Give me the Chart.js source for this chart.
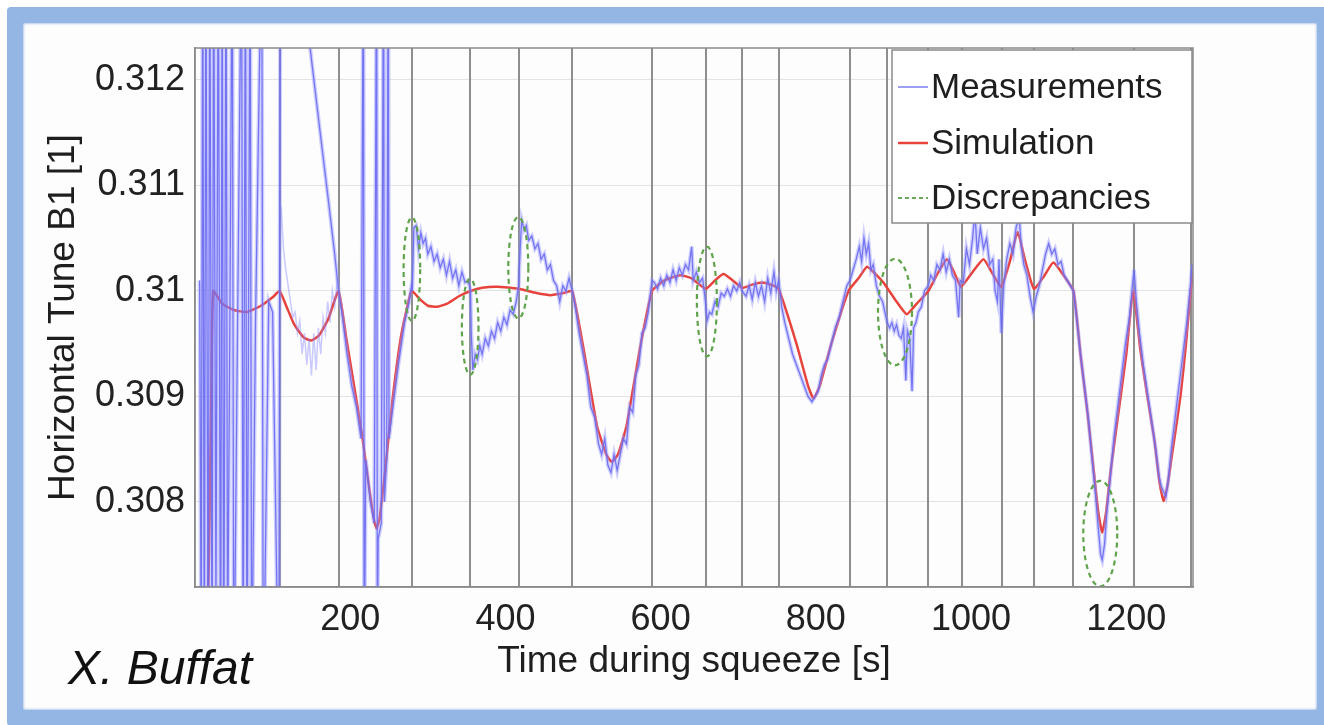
<!DOCTYPE html>
<html>
<head>
<meta charset="utf-8">
<script src="https://cdn.jsdelivr.net/npm/chart.js@4/dist/chart.umd.min.js"></script>
<style>
  html, body { margin: 0; padding: 0; background: #ffffff; }
  body { width: 1324px; height: 725px; position: relative; overflow: hidden; }
  .frame {
    position: absolute; left: 7px; top: 7px; width: 1326px; height: 719px;
    box-sizing: border-box; border: 16px solid #93b6e4; border-radius: 4px;
    background: #fdfdfe; box-shadow: inset 0 0 3px #6f98d2;
  }
  .author {
    position: absolute; left: 68px; top: 640px;
    font: italic 48px "Liberation Sans", Arial, sans-serif; color: #111;
  }
  #wrap { position: absolute; left: 0; top: 0; width: 1324px; height: 725px; }
</style>
</head>
<body>
<div class="frame"></div>
<div id="wrap"><canvas id="tune-chart" width="1324" height="725"></canvas></div>
<div class="author">X. Buffat</div>
<script>
// axis
var xTicks = [200, 400, 600, 800, 1000, 1200];
var yTicks = [0.308, 0.309, 0.31, 0.311, 0.312];

// squeeze steps (s)
var stepTimes = [109, 185, 279, 355, 417, 486, 589, 658, 705, 752, 844, 892, 945, 988, 1040, 1081, 1132, 1210, 1284];

// simulation
var simT = [14, 18, 21, 23.5, 35, 50, 67, 85, 100, 109, 118, 128, 140, 150, 160, 172, 185, 195, 205, 215, 225, 231, 234, 238, 245, 255, 265, 272, 279,
  290, 300, 312, 325, 340, 355, 370, 390, 417, 440, 458, 475, 486, 500, 518, 530, 537, 545, 556, 574, 589, 605, 625, 640, 658, 670, 681, 693, 705,
  718, 730, 742, 752, 775, 790, 797, 805, 820, 842, 855, 866, 877, 887, 902, 917, 930, 945, 958, 969, 978, 987, 1000, 1016, 1028, 1039, 1050, 1060,
  1070, 1081, 1094, 1106, 1120, 1132, 1141, 1150, 1158, 1164, 1169, 1174, 1180, 1190, 1200, 1209, 1218, 1227, 1236, 1243, 1248, 1253, 1260, 1270,
  1277, 1283, 1287];
var simQ = [0.3060, 0.3075, 0.3090, 0.3100, 0.30988, 0.30982, 0.3098, 0.30986, 0.30994, 0.3100, 0.30985, 0.30968, 0.30956, 0.30953, 0.30958, 0.30974,
  0.3100, 0.30955, 0.3091, 0.30865, 0.3081, 0.30782, 0.30775, 0.30785, 0.3083, 0.3090, 0.30955, 0.3098, 0.3100,
  0.30992, 0.30986, 0.30985, 0.30988, 0.30995, 0.3100, 0.31003, 0.31004, 0.31002, 0.30998, 0.30996, 0.30998, 0.3100, 0.30948, 0.30872, 0.30845,
  0.30838, 0.30845, 0.30872, 0.30948, 0.3100, 0.3101, 0.31015, 0.31012, 0.31002, 0.3101, 0.31016, 0.3101, 0.31003,
  0.31006, 0.31008, 0.31006, 0.31002, 0.3095, 0.3091, 0.30898, 0.3091, 0.3095, 0.3100, 0.31012, 0.31023, 0.31016, 0.31008, 0.30992, 0.30978, 0.30988,
  0.3100, 0.31018, 0.3103, 0.31018, 0.31004, 0.31016, 0.3103, 0.31016, 0.31004, 0.31028, 0.31056,
  0.31028, 0.31002, 0.31014, 0.31027, 0.31014, 0.3100, 0.3094, 0.30885, 0.3083, 0.3079, 0.30771, 0.3079, 0.3083, 0.30885, 0.3094, 0.3100, 0.30945,
  0.30901, 0.3086, 0.30818, 0.30801, 0.30815, 0.3085, 0.30901, 0.3095, 0.3100, 0.3102];

// measurements
var measT = [6, 8, 10, 12, 14, 17, 19, 22, 24, 27, 30, 33, 35, 37, 40, 42, 45, 48, 50, 55, 60, 62, 65, 67, 71, 73, 78, 86, 88, 95, 100, 108, 110,
  129, 140, 150, 160, 172, 180, 185,
  190, 196, 202, 208, 214, 217, 218, 220, 226, 231, 234, 235, 236, 240, 243, 244, 247, 249, 250, 255, 262, 270, 276, 279,
  280, 282, 285, 288, 291, 294, 297, 300, 304, 308, 312, 316, 320, 324, 328, 332, 336, 340, 344, 348, 352, 355,
  356, 358, 361, 364, 367, 370, 374, 378, 382, 386, 390, 394, 398, 402, 406, 410, 414, 417,
  419, 421, 424, 427, 430, 434, 438, 442, 446, 450, 454, 458, 462, 466, 470, 474, 478, 482, 486,
  490, 495, 500, 505, 510, 515, 520, 524, 528, 532, 536, 540, 544, 548, 552, 556, 560, 564, 568, 572, 576, 580, 584, 589,
  592, 596, 600, 604, 608, 612, 616, 620, 624, 628, 632, 636, 640, 642, 646, 650, 654, 657,
  660, 663, 666, 670, 674, 678, 682, 686, 690, 694, 698, 702, 705,
  710, 714, 718, 722, 726, 730, 734, 738, 742, 746, 749, 752,
  756, 760, 765, 770, 775, 780, 785, 790, 795, 799, 803, 807, 811, 815, 820, 825, 830, 835, 840, 844,
  848, 852, 856, 859, 862, 865, 868, 871, 874, 878, 882, 886, 889, 892,
  895, 898, 901, 904, 907, 910, 913, 916, 918, 921, 924, 926, 929, 932, 936, 940, 945,
  948, 952, 956, 960, 964, 968, 972, 976, 980, 984, 986, 990, 994, 998, 1002, 1005, 1008, 1012, 1016, 1020, 1024, 1028, 1031, 1034, 1036, 1039,
  1042, 1046, 1050, 1054, 1058, 1062, 1065, 1068, 1072, 1076, 1080, 1084, 1088, 1092, 1096, 1100, 1104, 1108, 1112, 1116, 1120, 1124, 1128, 1132,
  1136, 1141, 1146, 1151, 1156, 1160, 1164, 1167, 1169, 1172, 1175, 1179, 1184, 1189, 1194, 1199, 1204, 1208, 1210, 1213, 1217, 1222, 1228, 1234,
  1238, 1242, 1245, 1248, 1251, 1254, 1258, 1263, 1268, 1273, 1278, 1282, 1285];
var measQ = [0.3101, 0.3065, 0.3135, 0.3060, 0.3135, 0.3060, 0.3135, 0.3062, 0.3135, 0.3070, 0.3135, 0.3060, 0.3135, 0.3060, 0.3135, 0.3065, 0.3098,
  0.3135, 0.3060, 0.3098, 0.3135, 0.3060, 0.3135, 0.3060, 0.3135, 0.3062, 0.3097, 0.3135, 0.3060, 0.3099, 0.3098, 0.3060, 0.3135,
  0.3135, 0.31283, 0.3122, 0.31158, 0.31085, 0.31035, 0.3100,
  0.30975, 0.3094, 0.3091, 0.3089, 0.3086, 0.3135, 0.3062, 0.3084, 0.3080, 0.3078, 0.3135, 0.3065, 0.30765, 0.3078, 0.3135, 0.3080, 0.3084, 0.3135,
  0.3086, 0.3089, 0.3093, 0.3097, 0.3099, 0.31005,
  0.3100, 0.3106, 0.31062, 0.3104, 0.31055, 0.31045, 0.3105, 0.31035, 0.31042, 0.31028, 0.31035, 0.31022, 0.3103, 0.31015, 0.31028, 0.31012, 0.3102,
  0.31005, 0.31018, 0.31008, 0.3101, 0.3100,
  0.3096, 0.30925, 0.3094, 0.30935, 0.30948, 0.3094, 0.30955, 0.30948, 0.30962, 0.30955, 0.3097, 0.30962, 0.30975, 0.30968, 0.30982, 0.30978, 0.3099,
  0.31005,
  0.3104, 0.31067, 0.31058, 0.31062, 0.31048, 0.31052, 0.3104, 0.31045, 0.3103, 0.31035, 0.3102, 0.31025, 0.3101, 0.31005, 0.3099, 0.31005, 0.3100,
  0.31012, 0.3100,
  0.30985, 0.3096, 0.3094, 0.3092, 0.3089, 0.3088, 0.30855, 0.30845, 0.3086, 0.30835, 0.30828, 0.30845, 0.3083, 0.30845, 0.3086, 0.30855, 0.3089,
  0.30885, 0.3092, 0.3093, 0.3096, 0.30965, 0.3098, 0.3101,
  0.31008, 0.31002, 0.31012, 0.31005, 0.31015, 0.31008, 0.3102, 0.3101, 0.31022, 0.31015, 0.31025, 0.3102, 0.31042, 0.3101, 0.31018, 0.31008,
  0.31012, 0.30995,
  0.30972, 0.3098, 0.30978, 0.3099, 0.30985, 0.30998, 0.30995, 0.31002, 0.30995, 0.31005, 0.3100, 0.31008, 0.3100,
  0.30995, 0.31005, 0.30992, 0.31008, 0.30995, 0.31005, 0.3099, 0.31012, 0.30998, 0.31018, 0.3100, 0.3101,
  0.30985, 0.3097, 0.30955, 0.3094, 0.3093, 0.3092, 0.3091, 0.3090, 0.30895, 0.3090, 0.30905, 0.3092, 0.3093, 0.30935, 0.3095, 0.30965, 0.30975,
  0.3099, 0.31005, 0.3101,
  0.3102, 0.3103, 0.31042, 0.31028, 0.3105, 0.31035, 0.31045, 0.3102, 0.31025, 0.31005, 0.30995, 0.3099, 0.3098, 0.3097,
  0.30965, 0.3097, 0.30962, 0.30968, 0.30958, 0.30955, 0.30965, 0.30915, 0.30962, 0.30955, 0.30905, 0.30965, 0.3097, 0.3098, 0.30985, 0.3100, 0.31005,
  0.31015, 0.3101, 0.31025, 0.3102, 0.31035, 0.31018, 0.3103, 0.31015, 0.3101, 0.30975, 0.3101, 0.31008, 0.3104, 0.31025, 0.3105, 0.31075, 0.31035,
  0.3106, 0.3104, 0.3105, 0.31025, 0.3103, 0.3100, 0.3099, 0.3103, 0.3096,
  0.31005, 0.3103, 0.31045, 0.31035, 0.3106, 0.3107, 0.3104, 0.31025, 0.31015, 0.30995, 0.3098, 0.30995, 0.31005, 0.3102, 0.31035, 0.31045, 0.31035,
  0.3104, 0.31025, 0.31028, 0.31015, 0.3101, 0.31005, 0.3100,
  0.30975, 0.3094, 0.3091, 0.3088, 0.3084, 0.3081, 0.30775, 0.3075, 0.30745, 0.3076, 0.3079, 0.3082, 0.3086, 0.3089, 0.3092, 0.3095, 0.30975, 0.31005,
  0.3102, 0.3099, 0.3096, 0.3093, 0.3090, 0.3087,
  0.3085, 0.30825, 0.30815, 0.3081, 0.30805, 0.3082, 0.3085, 0.3088, 0.3091, 0.3094, 0.3097, 0.3100, 0.31025];

// faint raw trace after the first steps
var rawT = [111, 114, 117, 120, 123, 126, 129, 132, 135, 138, 141, 144, 147, 150, 153, 156, 159, 162, 165, 168, 171, 174, 177, 180, 183, 185];
var rawQ = [0.3108, 0.3104, 0.3102, 0.31005, 0.3099, 0.30975, 0.3098, 0.3096, 0.30972, 0.3094, 0.3096, 0.3093, 0.30955, 0.3092, 0.3096, 0.30925,
  0.30965, 0.3094, 0.30975, 0.3096, 0.3099, 0.3097, 0.3100, 0.30985, 0.3101, 0.3100];

// discrepancy ellipses: centre and half sizes in data units
var discT = [279.5, 354.6, 416.6, 659.6, 902, 1166.5];
var discQ = [0.310206, 0.30966, 0.31022, 0.3099, 0.3098, 0.3077];
var discRT = [10.7, 10.7, 12.9, 12.9, 21.9, 21.9];
var discRQ = [0.00049, 0.000455, 0.00048, 0.00052, 0.000505, 0.0005];

var legendLabels = ['Measurements', 'Simulation', 'Discrepancies'];

var FONT = '"Liberation Sans", Arial, Helvetica, sans-serif';

function pairs(ts, qs) {
  var out = [];
  for (var i = 0; i < ts.length; i++) {
    out.push({x: ts[i], y: qs[i]});
  }
  return out;
}

// grey lines at each squeeze step
var stepLines = {
  id: 'stepLines',
  beforeDatasetsDraw: function(chart) {
    var ctx = chart.ctx, a = chart.chartArea, xs = chart.scales.x;
    ctx.save();
    ctx.strokeStyle = '#8e8e8e';
    ctx.lineWidth = 2;
    for (var i = 0; i < stepTimes.length; i++) {
      var px = Math.round(xs.getPixelForValue(stepTimes[i]));
      ctx.beginPath();
      ctx.moveTo(px, a.top);
      ctx.lineTo(px, a.bottom);
      ctx.stroke();
    }
    ctx.restore();
  }
};

// dashed green ellipses, box, legend
var overlays = {
  id: 'overlays',
  afterDatasetsDraw: function(chart) {
    var ctx = chart.ctx, a = chart.chartArea, xs = chart.scales.x, ys = chart.scales.y;
    ctx.save();
    ctx.beginPath();
    ctx.rect(a.left, a.top, a.right - a.left, a.bottom - a.top);
    ctx.clip();
    ctx.strokeStyle = '#5fa34a';
    ctx.lineWidth = 2.2;
    ctx.setLineDash([5, 4]);
    for (var i = 0; i < discT.length; i++) {
      var cx = xs.getPixelForValue(discT[i]);
      var cy = ys.getPixelForValue(discQ[i]);
      var rx = xs.getPixelForValue(discT[i] + discRT[i]) - cx;
      var ry = cy - ys.getPixelForValue(discQ[i] + discRQ[i]);
      ctx.beginPath();
      ctx.ellipse(cx, cy, rx, ry, 0, 0, Math.PI * 2);
      ctx.stroke();
    }
    ctx.restore();

    // plot box
    ctx.save();
    ctx.strokeStyle = '#8a8a8a';
    ctx.lineWidth = 1.5;
    ctx.strokeRect(a.left, a.top, a.right - a.left, a.bottom - a.top);
    ctx.restore();

    // legend box (top right, inside the axes)
    var bx = a.right - 301, by = a.top + 2, bw = 300, bh = 173;
    ctx.save();
    ctx.fillStyle = '#ffffff';
    ctx.fillRect(bx, by, bw, bh);
    ctx.strokeStyle = '#8a8a8a';
    ctx.lineWidth = 1.5;
    ctx.strokeRect(bx, by, bw, bh);
    var rows = [37, 93, 148];
    var styles = [
      {c: '#7c7cf0', w: 1.5, d: []},
      {c: '#e8423c', w: 2.5, d: []},
      {c: '#6aaa58', w: 2, d: [4, 3]}
    ];
    ctx.font = '35px ' + FONT;
    ctx.textBaseline = 'middle';
    for (var k = 0; k < legendLabels.length; k++) {
      var ry2 = by + rows[k];
      ctx.strokeStyle = styles[k].c;
      ctx.lineWidth = styles[k].w;
      ctx.setLineDash(styles[k].d);
      ctx.beginPath();
      ctx.moveTo(bx + 6, ry2);
      ctx.lineTo(bx + 36, ry2);
      ctx.stroke();
      ctx.fillStyle = '#1e1e1e';
      ctx.fillText(legendLabels[k], bx + 39, ry2 + 1);
    }
    ctx.restore();
  }
};

var chart = new Chart(document.getElementById('tune-chart'), {
  type: 'scatter',
  data: {
    datasets: [
      {
        label: 'raw',
        data: pairs(rawT, rawQ),
        showLine: true,
        borderColor: 'rgba(140,140,255,0.45)',
        borderWidth: 1.5,
        pointRadius: 0,
        clip: 0
      },
      {
        label: 'halo',
        data: pairs(measT, measQ),
        showLine: true,
        borderColor: 'rgba(150,150,255,0.45)',
        borderWidth: 4,
        pointRadius: 0,
        clip: 0
      },
      {
        label: 'Measurements',
        data: pairs(measT, measQ),
        showLine: true,
        borderColor: 'rgba(70,70,230,0.9)',
        borderWidth: 1.3,
        pointRadius: 0,
        clip: 0
      },
      {
        label: 'Simulation',
        data: pairs(simT, simQ),
        showLine: true,
        borderColor: '#e8423c',
        borderWidth: 2.5,
        pointRadius: 0,
        tension: 0.15,
        clip: 0
      }
    ]
  },
  options: {
    responsive: false,
    animation: false,
    events: [],
    layout: {
      padding: {left: 40, top: 48, right: 131, bottom: 40}
    },
    plugins: {
      legend: {display: false},
      tooltip: {enabled: false}
    },
    scales: {
      x: {
        type: 'linear',
        min: 0,
        max: 1286,
        afterBuildTicks: function(scale) {
          scale.ticks = xTicks.map(function(v) { return {value: v}; });
        },
        afterFit: function(scale) { scale.height = 98; },
        grid: {drawOnChartArea: false, drawTicks: false},
        border: {color: '#8a8a8a', width: 1.5},
        ticks: {
          padding: 11,
          color: '#222',
          font: {family: FONT, size: 36},
          maxRotation: 0,
          callback: function(v) { return String(v); }
        },
        title: {
          display: true,
          text: 'Time during squeeze [s]',
          color: '#1e1e1e',
          font: {family: FONT, size: 37},
          padding: {top: 0, bottom: 1}
        }
      },
      y: {
        type: 'linear',
        min: 0.307194,
        max: 0.312303,
        afterBuildTicks: function(scale) {
          scale.ticks = yTicks.map(function(v) { return {value: v}; });
        },
        afterFit: function(scale) { scale.width = 155; },
        grid: {color: '#e3e3e3', lineWidth: 1, drawTicks: false},
        border: {color: '#8a8a8a', width: 1.5},
        ticks: {
          padding: 10,
          color: '#222',
          font: {family: FONT, size: 36},
          callback: function(v) { return String(+v.toFixed(3)); }
        },
        title: {
          display: true,
          text: 'Horizontal Tune B1 [1]',
          color: '#1e1e1e',
          font: {family: FONT, size: 37},
          padding: {top: 2, bottom: 0}
        }
      }
    }
  },
  plugins: [stepLines, overlays]
});
</script>
</body>
</html>
